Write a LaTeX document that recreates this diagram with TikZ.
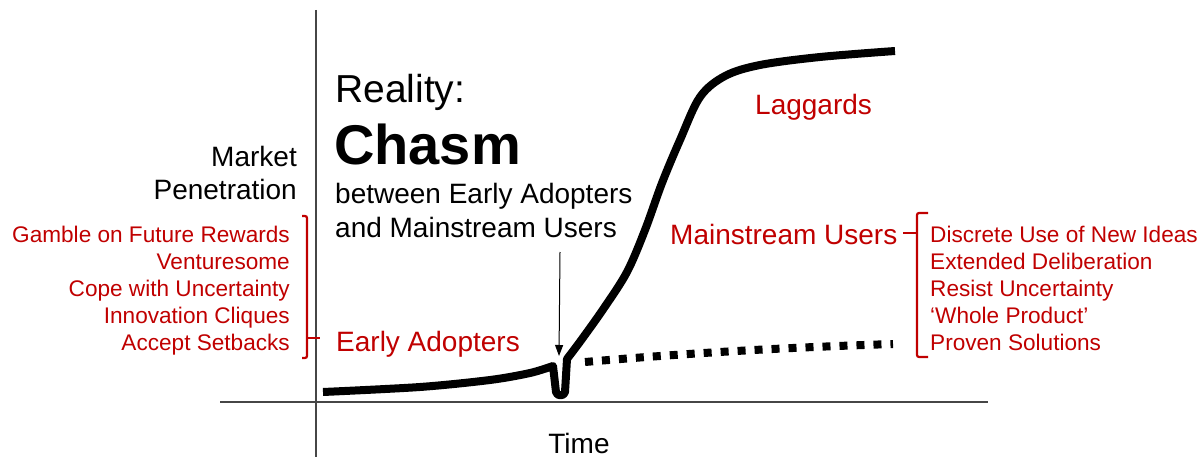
\documentclass[tikz,border=0pt]{standalone}
\usepackage{fontspec}
\setmainfont{Liberation Sans}
\usetikzlibrary{arrows.meta}
\definecolor{pptred}{RGB}{192,0,0}
\definecolor{axisgray}{RGB}{70,70,70}
\tikzset{
  lbl/.style={inner sep=0pt, text=black, font=\fontsize{28}{33.6}\selectfont},
  redbig/.style={inner sep=0pt, text=pptred, font=\fontsize{28}{33.6}\selectfont},
  redsmall/.style={inner sep=0pt, text=pptred, font=\fontsize{22.6}{27}\selectfont},
  axisline/.style={draw=axisgray, line width=1.1pt},
  curve/.style={draw=black, line width=8pt, line join=round, line cap=butt},
  dotline/.style={draw=black, line width=8pt, dash pattern=on 8pt off 9pt},
  brk/.style={draw=pptred, line width=2.2pt, rounded corners=2pt},
}
\begin{document}
\begin{tikzpicture}[x=1pt,y=-1pt]
\useasboundingbox (0,0) rectangle (1204,457);
% axes
\coordinate (ytop) at (316,10);
\coordinate (ybot) at (316,457);
\coordinate (xl) at (220,402);
\coordinate (xr) at (988,402);
\draw[axisline] (ytop) -- (ybot);
\draw[axisline] (xl) -- (xr);
% main curve
\draw[curve] plot[smooth,tension=.5] coordinates {(323,392)(420,387)(490,380)(530,373)(553,366)}
  -- (556,392) to[out=-80,in=-100,looseness=1.3] (565,392) -- (567,359)
  -- plot[smooth,tension=.55] coordinates {(567,359)(582,339)(604,308)(627,272)(645,230)(662,183)(680,140)(700,97)(725,76)(760,65)(820,57)(895,51)};
% dotted expectation
\coordinate (d0) at (585,362);
\coordinate (d1) at (893,344);
\draw[dotline] (d0) .. controls (700,352) and (800,347) .. (d1);
% arrow
\coordinate (a0) at (560,252);
\coordinate (a1) at (559,356);
\draw[line width=1pt,-{Triangle[length=11pt,width=8pt]}] (a0) -- (a1);
% texts
\node[lbl, anchor=base east] (market) at (297,167) {Market};
\node[lbl, anchor=base east] (pen) at (297,200) {Penetration};
\node[inner sep=0pt, anchor=base west, font=\fontsize{39}{46}\selectfont] (reality) at (335,103) {Reality:};
\node[inner sep=0pt, anchor=base west, font=\fontsize{56}{64}\selectfont\bfseries] (chasm) at (334,165) {Chasm};
\node[lbl, anchor=base west] (between) at (335,204) {between Early Adopters};
\node[lbl, anchor=base west] (andmain) at (335,237) {and Mainstream Users};
\node[lbl, anchor=base] (time) at (579,453) {Time};
\node[redbig, anchor=base west] (lag) at (755,115) {Laggards};
\node[redbig, anchor=base west] (mainu) at (670,244) {Mainstream Users};
\node[redbig, anchor=base west] (early) at (336,351) {Early Adopters};
% left list
\node[redsmall, anchor=base east] (l1) at (290,242) {Gamble on Future Rewards};
\node[redsmall, anchor=base east] (l2) at (290,269) {Venturesome};
\node[redsmall, anchor=base east] (l3) at (290,296) {Cope with Uncertainty};
\node[redsmall, anchor=base east] (l4) at (290,323) {Innovation Cliques};
\node[redsmall, anchor=base east] (l5) at (290,350) {Accept Setbacks};
% right list
\node[redsmall, anchor=base west] (r1) at (930,242) {Discrete Use of New Ideas};
\node[redsmall, anchor=base west] (r2) at (930,269) {Extended Deliberation};
\node[redsmall, anchor=base west] (r3) at (930,296) {Resist Uncertainty};
\node[redsmall, anchor=base west] (r4) at (930,323) {‘Whole Product’};
\node[redsmall, anchor=base west] (r5) at (930,350) {Proven Solutions};
% brackets
\draw[brk] (302,216) -- (307,216) -- (307,358) -- (302,358);
\draw[brk] (307,338) -- (320,338);
\draw[brk] (928,213) -- (917,213) -- (917,357) -- (928,357);
\draw[brk] (917,233) -- (903,233);
\end{tikzpicture}
\end{document}
